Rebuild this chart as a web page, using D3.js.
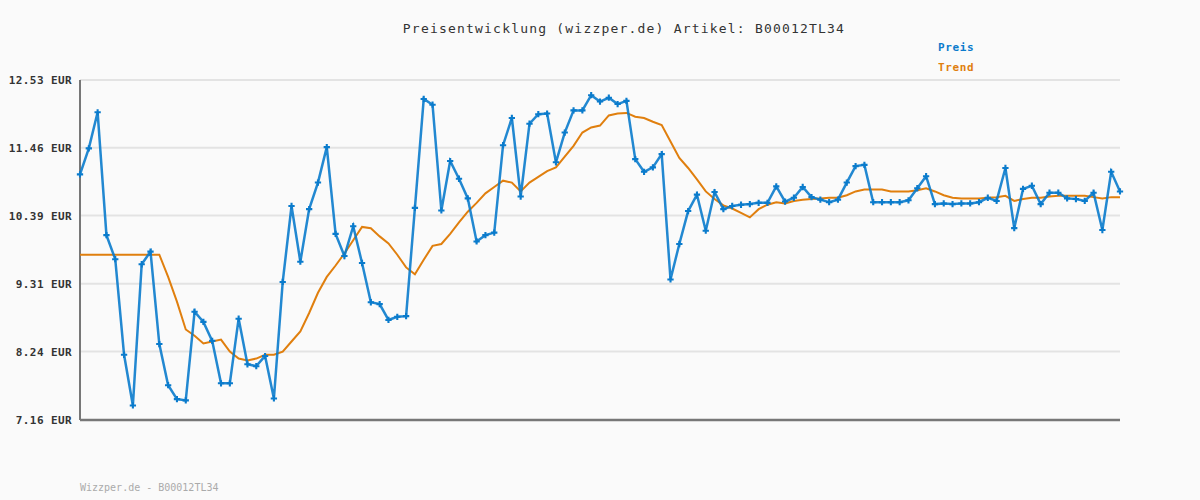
<!DOCTYPE html>
<html>
<head>
<meta charset="utf-8">
<script src="https://cdn.jsdelivr.net/npm/d3@7"></script>
<style>
  body { margin: 0; background: #fafafa; }
  svg { display: block; }
</style>
</head>
<body>
<div id="chart"></div>
<script>
// price per day (EUR)
var preis = [
  11.04, 11.45, 12.02, 10.08, 9.70, 8.19, 7.39, 9.62, 9.82, 8.36,
  7.71, 7.49, 7.47, 8.87, 8.71, 8.41, 7.74, 7.74, 8.76, 8.04,
  8.01, 8.17, 7.50, 9.34, 10.54, 9.66, 10.49, 10.91, 11.47, 10.10,
  9.75, 10.22, 9.64, 9.02, 8.99, 8.74, 8.79, 8.80, 10.51, 12.23,
  12.14, 10.47, 11.25, 10.97, 10.66, 9.98, 10.08, 10.12, 11.50, 11.93,
  10.69, 11.84, 11.99, 12.00, 11.23, 11.70, 12.05, 12.05, 12.29, 12.19,
  12.25, 12.15, 12.20, 11.28, 11.08, 11.15, 11.36, 9.38, 9.94, 10.46,
  10.72, 10.15, 10.76, 10.49, 10.54, 10.56, 10.57, 10.59, 10.59, 10.85,
  10.61, 10.67, 10.84, 10.68, 10.64, 10.60, 10.64, 10.91, 11.17, 11.19,
  10.60, 10.60, 10.60, 10.60, 10.63, 10.82, 11.01, 10.57, 10.58, 10.57,
  10.58, 10.58, 10.60, 10.67, 10.62, 11.14, 10.19, 10.81, 10.86, 10.57,
  10.75, 10.75, 10.66, 10.65, 10.62, 10.75, 10.16, 11.08, 10.77
];

// trend line
var trend = [
  9.77, 9.77, 9.77, 9.77, 9.77, 9.77, 9.77, 9.77, 9.77, 9.77,
  9.42, 9.03, 8.59, 8.49, 8.37, 8.40, 8.43, 8.24, 8.13, 8.10,
  8.13, 8.19, 8.19, 8.24, 8.40, 8.56, 8.85, 9.17, 9.42, 9.60,
  9.79, 10.00, 10.21, 10.19, 10.06, 9.95, 9.77, 9.57, 9.46, 9.69,
  9.91, 9.94, 10.10, 10.28, 10.45, 10.59, 10.74, 10.84, 10.94, 10.91,
  10.77, 10.91, 11.00, 11.09, 11.15, 11.32, 11.49, 11.70, 11.78, 11.81,
  11.97, 12.00, 12.01, 11.95, 11.93, 11.87, 11.82, 11.56, 11.30, 11.14,
  10.96, 10.77, 10.65, 10.55, 10.50, 10.43, 10.36, 10.49, 10.56, 10.60,
  10.58, 10.62, 10.64, 10.65, 10.66, 10.67, 10.67, 10.71, 10.77, 10.80,
  10.80, 10.80, 10.77, 10.77, 10.77, 10.79, 10.82, 10.77, 10.71, 10.67,
  10.66, 10.66, 10.66, 10.67, 10.68, 10.70, 10.62, 10.65, 10.67, 10.67,
  10.69, 10.70, 10.70, 10.70, 10.70, 10.68, 10.66, 10.68, 10.68
];

var yTicks = [7.16, 8.24, 9.31, 10.39, 11.46, 12.53];
var yTickLabels = ["7.16 EUR", "8.24 EUR", "9.31 EUR", "10.39 EUR", "11.46 EUR", "12.53 EUR"];
var legendNames = ["Preis", "Trend"];
var colors = ["#0a7bcc", "#e07f0e"];

var W = 1200, H = 500;
var margin = {top: 80, right: 80, bottom: 80, left: 80},
    width = W - margin.left - margin.right,
    height = H - margin.top - margin.bottom;

var svg = d3.select("#chart")
  .append("svg")
    .attr("width", W)
    .attr("height", H)
    .style("background", "#fafafa");

var mono = "'DejaVu Sans Mono', 'Liberation Mono', monospace";

// title
svg.append("text")
    .attr("x", 624)
    .attr("y", 33)
    .attr("text-anchor", "middle")
    .attr("font-family", mono)
    .attr("font-size", 13)
    .attr("letter-spacing", 1.2)
    .attr("fill", "#333")
    .text("Preisentwicklung (wizzper.de) Artikel: B00012TL34");

// legend
legendNames.forEach(function(n, i) {
  svg.append("text")
      .attr("x", 938)
      .attr("y", 51 + i * 20)
      .attr("font-family", mono)
      .attr("font-size", 11)
      .attr("font-weight", "bold")
      .attr("letter-spacing", 0.6)
      .attr("fill", colors[i])
      .text(n);
});

// footer
svg.append("text")
    .attr("x", 80)
    .attr("y", 491)
    .attr("font-family", mono)
    .attr("font-size", 10)
    .attr("fill", "#aaa")
    .text("Wizzper.de - B00012TL34");

var g = svg.append("g")
    .attr("transform", "translate(" + margin.left + "," + margin.top + ")");

var x = d3.scaleLinear()
    .domain([0, preis.length - 1])
    .range([0, width]);

var y = d3.scaleLinear()
    .domain([yTicks[0], yTicks[yTicks.length - 1]])
    .range([height, 0]);

// grid
g.append("g")
    .selectAll("line")
    .data(yTicks)
    .enter()
    .append("line")
      .attr("x1", 0)
      .attr("x2", width)
      .attr("y1", function(d) { return y(d); })
      .attr("y2", function(d) { return y(d); })
      .attr("stroke", "#e3e3e3")
      .attr("stroke-width", 2);

// y axis labels
var yAxis = g.append("g")
    .call(d3.axisLeft(y)
      .tickValues(yTicks)
      .tickSize(0)
      .tickPadding(8)
      .tickFormat(function(d, i) { return yTickLabels[i]; }));
yAxis.select(".domain").remove();
yAxis.selectAll("text")
    .attr("font-family", mono)
    .attr("font-size", 11)
    .attr("font-weight", "bold")
    .attr("letter-spacing", 0.4)
    .attr("fill", "#333");

// axis lines
g.append("line")
    .attr("x1", 0).attr("x2", 0)
    .attr("y1", 0).attr("y2", height)
    .attr("stroke", "#777").attr("stroke-width", 2);
g.append("line")
    .attr("x1", 0).attr("x2", width)
    .attr("y1", height).attr("y2", height)
    .attr("stroke", "#777").attr("stroke-width", 2.5);

var line = d3.line()
    .x(function(d, i) { return x(i); })
    .y(function(d) { return y(d); });

g.append("path")
    .attr("d", line(trend))
    .attr("fill", "none")
    .attr("stroke", colors[1])
    .attr("stroke-width", 2);

g.append("path")
    .attr("d", line(preis))
    .attr("fill", "none")
    .attr("stroke", colors[0])
    .attr("stroke-width", 2.5)
    .attr("stroke-opacity", 0.9);

// point markers
g.selectAll(".pt")
    .data(preis)
    .enter()
    .append("path")
      .attr("class", "pt")
      .attr("transform", function(d, i) { return "translate(" + x(i) + "," + y(d) + ")"; })
      .attr("d", d3.symbol().type(d3.symbolCross).size(22))
      .attr("fill", colors[0]);
</script>
</body>
</html>
